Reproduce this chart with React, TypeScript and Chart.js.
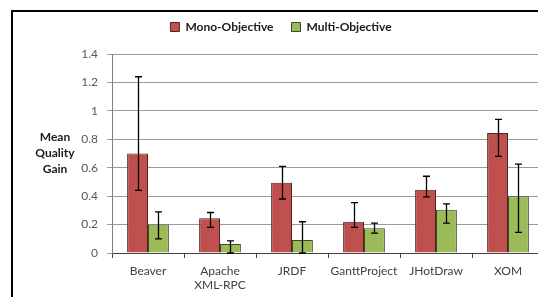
import React, { useEffect, useRef } from "react";
import { Chart, registerables } from "chart.js";

Chart.register(...registerables);

const categories: (string | string[])[] = ["Beaver", ["Apache", "XML-RPC"], "JRDF", "GanttProject", "JHotDraw", "XOM"];
const seriesNames = ["Mono-Objective", "Multi-Objective"];
const monoValues = [0.70, 0.245, 0.495, 0.22, 0.445, 0.845];
const monoLow = [0.44, 0.18, 0.38, 0.18, 0.395, 0.68];
const monoHigh = [1.24, 0.285, 0.61, 0.355, 0.54, 0.94];
const multiValues = [0.20, 0.063, 0.092, 0.175, 0.305, 0.40];
const multiLow = [0.10, 0.0, 0.0, 0.14, 0.21, 0.145];
const multiHigh = [0.29, 0.085, 0.22, 0.21, 0.345, 0.625];
const yTitleLines = ["Mean", "Quality", "Gain"];

const FONT = "Lato, 'Open Sans', sans-serif";

export default function App() {
  const ref = useRef<HTMLCanvasElement | null>(null);

  useEffect(() => {
    const canvas = ref.current;
    if (!canvas) return;

    const lows = [monoLow, multiLow];
    const highs = [monoHigh, multiHigh];

    const framePlugin = {
      id: "frame",
      beforeDraw(chart: any) {
        const ctx = chart.ctx;
        ctx.save();
        ctx.fillStyle = "#ffffff";
        ctx.fillRect(0, 0, chart.width, chart.height);
        ctx.strokeStyle = "#000000";
        ctx.lineWidth = 2;
        ctx.strokeRect(12, 11, chart.width + 50, chart.height + 50);
        ctx.restore();
      },
    };

    const legendSpace = {
      id: "legendSpace",
      beforeInit(chart: any) {
        const orig = chart.legend.fit;
        chart.legend.fit = function () {
          orig.call(this);
          this.height += 11;
        };
      },
    };

    const yTitlePlugin = {
      id: "yTitle",
      afterDraw(chart: any) {
        const ctx = chart.ctx;
        ctx.save();
        ctx.font = `bold 12px ${FONT}`;
        ctx.fillStyle = "#1a1a1a";
        ctx.textAlign = "center";
        ctx.textBaseline = "middle";
        yTitleLines.forEach((t, i) => ctx.fillText(t, 55, 137 + i * 16));
        ctx.restore();
      },
    };

    const errorBars = {
      id: "errorBars",
      afterDatasetsDraw(chart: any) {
        const ctx = chart.ctx;
        const ys = chart.scales.y;
        ctx.save();
        ctx.strokeStyle = "#000000";
        ctx.lineWidth = 1.3;
        chart.data.datasets.forEach((_: any, di: number) => {
          const meta = chart.getDatasetMeta(di);
          meta.data.forEach((el: any, j: number) => {
            const x = Math.round(el.x) + 0.5;
            const yh = ys.getPixelForValue(highs[di][j]);
            const yl = ys.getPixelForValue(lows[di][j]);
            ctx.beginPath();
            ctx.moveTo(x, yh);
            ctx.lineTo(x, yl);
            ctx.moveTo(x - 3.5, yh);
            ctx.lineTo(x + 3.5, yh);
            ctx.moveTo(x - 3.5, yl);
            ctx.lineTo(x + 3.5, yl);
            ctx.stroke();
          });
        });
        ctx.restore();
      },
    };

    const chart = new Chart(canvas, {
      type: "bar",
      data: {
        labels: categories as any,
        datasets: [
          {
            label: seriesNames[0],
            data: monoValues,
            backgroundColor: "#C0504D",
            borderColor: "#4a2624",
            borderWidth: 1,
            categoryPercentage: 0.58,
            barPercentage: 1,
          },
          {
            label: seriesNames[1],
            data: multiValues,
            backgroundColor: "#9BBB59",
            borderColor: "#3e4a24",
            borderWidth: 1,
            categoryPercentage: 0.58,
            barPercentage: 1,
          },
        ],
      },
      options: {
        responsive: false,
        animation: false,
        layout: { padding: { left: 18, right: 56, top: 3, bottom: 0 } },
        plugins: {
          legend: {
            position: "top",
            labels: {
              boxWidth: 9,
              boxHeight: 9,
              padding: 18,
              color: "#1a1a1a",
              font: { family: FONT, size: 12, weight: "bold" },
            },
          },
          tooltip: { enabled: false },
        },
        scales: {
          x: {
            grid: { drawOnChartArea: false, drawTicks: true, tickLength: 5, color: "#404040", offset: true },
            border: { color: "#404040", width: 1 },
            ticks: { color: "#404040", font: { family: FONT, size: 12 }, padding: 6, maxRotation: 0, autoSkip: false },
            afterFit(scale: any) {
              scale.height = 67;
            },
          },
          y: {
            min: 0,
            max: 1.4,
            ticks: {
              stepSize: 0.2,
              color: "#595959",
              font: { family: FONT, size: 12 },
              padding: 9,
              callback: (v: any) => String(Number(Number(v).toFixed(1))),
            },
            grid: { color: "#9a9a9a", tickLength: 5, drawTicks: true },
            border: { color: "#808080", width: 1 },
            afterFit(scale: any) {
              scale.width = 94;
            },
          },
        },
      },
      plugins: [framePlugin, legendSpace, yTitlePlugin, errorBars],
    });

    return () => chart.destroy();
  }, []);

  return (
    <div style={{ position: "fixed", left: 0, top: 0, width: 538, height: 297, overflow: "hidden", background: "#fff" }}>
      <canvas ref={ref} width={600} height={320} style={{ width: 600, height: 320, display: "block" }} />
    </div>
  );
}
